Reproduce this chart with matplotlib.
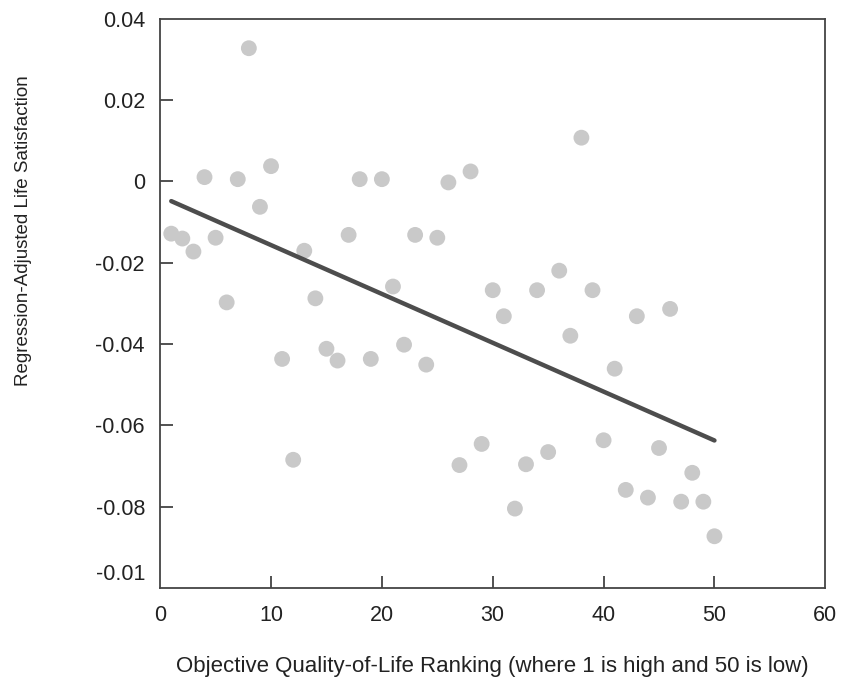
import matplotlib
matplotlib.use("Agg")
import matplotlib.pyplot as plt
import numpy as np

plt.rcParams['font.family'] = ['Liberation Sans', 'DejaVu Sans']

# ranking 1..50 and adjusted life satisfaction
rank = list(range(1, 51))
satisfaction = [
    -0.0129, -0.0141, -0.0173, 0.0010, -0.0139, -0.0298, 0.0005, 0.0327, -0.0063, 0.0037,
    -0.0437, -0.0685, -0.0171, -0.0288, -0.0412, -0.0441, -0.0132, 0.0005, -0.0437, 0.0005,
    -0.0259, -0.0402, -0.0132, -0.0451, -0.0139, -0.0003, -0.0698, 0.0024, -0.0646, -0.0268,
    -0.0332, -0.0805, -0.0696, -0.0268, -0.0666, -0.0220, -0.0380, 0.0107, -0.0268, -0.0637,
    -0.0461, -0.0759, -0.0332, -0.0778, -0.0656, -0.0314, -0.0788, -0.0717, -0.0788, -0.0873,
]
ytick_vals = [0.04, 0.02, 0, -0.02, -0.04, -0.06, -0.08, -0.096]
ytick_labels = ['0.04', '0.02', '0', '-0.02', '-0.04', '-0.06', '-0.08', '-0.01']
xtick_vals = [0, 10, 20, 30, 40, 50, 60]

fig = plt.figure(figsize=(8.43, 6.86), dpi=100)
ax = fig.add_axes([0.190, 0.143, 0.789, 0.830])

ax.scatter(rank, satisfaction, s=130, color='#c9c9c9', edgecolors='none', zorder=2)

# least squares fit line over the data range
x = np.array(rank)
slope, intercept = np.polyfit(x, satisfaction, 1)
xs = np.array([x.min(), x.max()])
ax.plot(xs, slope * xs + intercept, color='#4d4d4d', lw=3.2, solid_capstyle='round', zorder=3)

ax.set_xlim(0, 60)
ax.set_ylim(-0.1, 0.04)
ax.set_xticks(xtick_vals)
ax.set_xticklabels([str(v) for v in xtick_vals])
ax.set_yticks(ytick_vals)
ax.set_yticklabels(ytick_labels)

ax.tick_params(direction='in', length=9, width=1.2, color='#333333',
               labelsize=15.5, labelcolor='#222222')
ax.tick_params(axis='x', pad=12)
ax.tick_params(axis='y', pad=11)
# no tick mark for the odd bottom label, nor at the axis ends
yt = ax.yaxis.get_major_ticks()
yt[0].tick1line.set_visible(False)
yt[-1].tick1line.set_visible(False)
xt = ax.xaxis.get_major_ticks()
xt[0].tick1line.set_visible(False)
xt[-1].tick1line.set_visible(False)

for sp in ax.spines.values():
    sp.set_color('#444444')
    sp.set_linewidth(1.3)

ax.set_xlabel('Objective Quality-of-Life Ranking (where 1 is high and 50 is low)',
              fontsize=16, color='#222222', labelpad=22)
ax.set_ylabel('Regression-Adjusted Life Satisfaction', fontsize=13.5, color='#222222')
# label sits above the middle in the original
ax.yaxis.set_label_coords(-0.192, 0.627)

fig.savefig('out.png', dpi=100)
